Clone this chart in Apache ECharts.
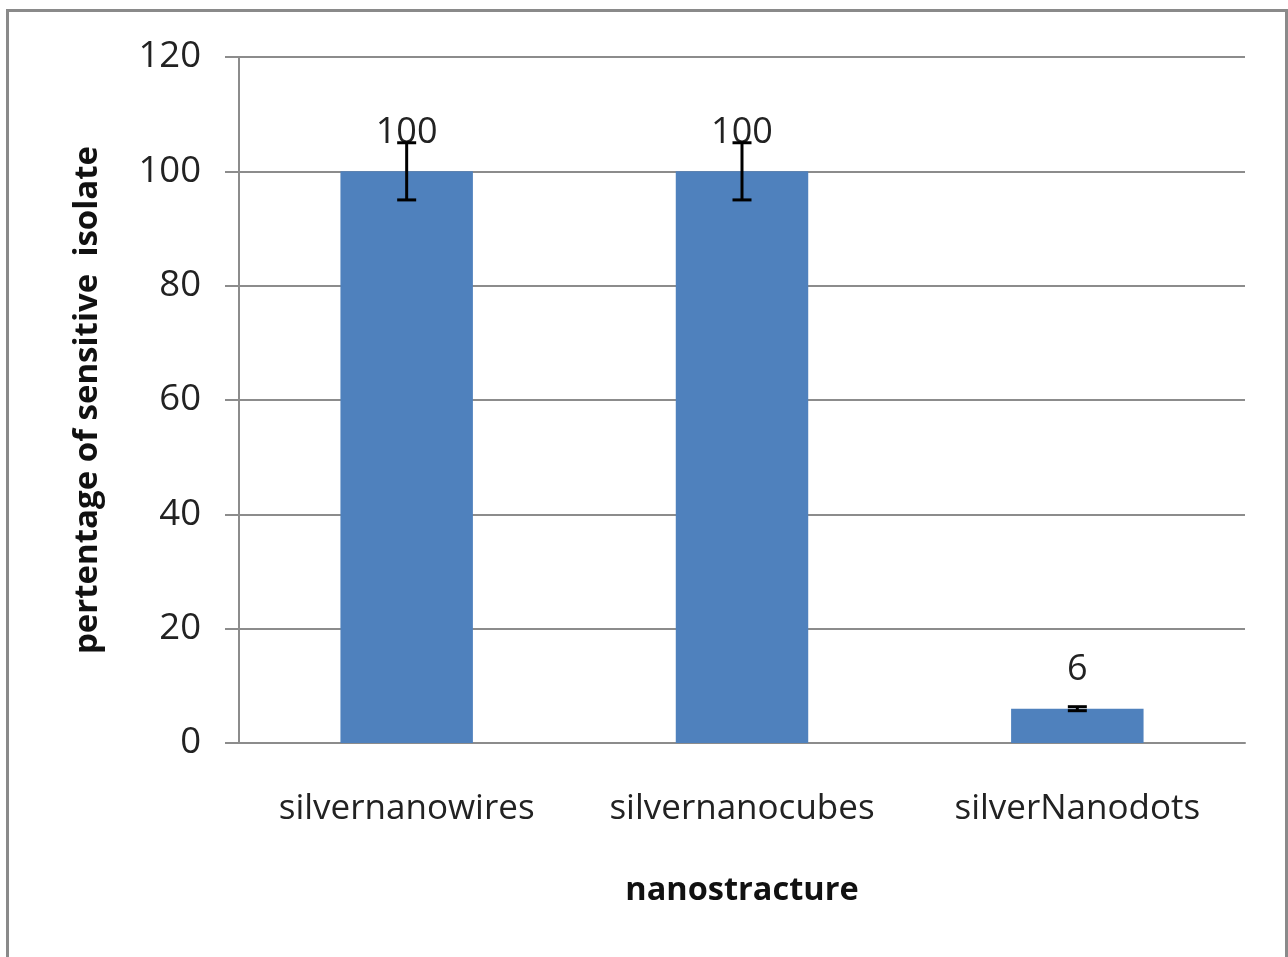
<!DOCTYPE html>
<html>
<head>
<meta charset="utf-8">
<script src="https://cdn.jsdelivr.net/npm/echarts@6/dist/echarts.min.js"></script>
<style>
html,body{margin:0;padding:0;background:#fff;}
#chart{width:1288px;height:957px;}
</style>
</head>
<body>
<div id="chart"></div>
<script>
const categories = ['silvernanowires', 'silvernanocubes', 'silverNanodots'];
const values = [100, 100, 6];
const errors = [5, 5, 0.35];
const yTicks = { min: 0, max: 120, interval: 20 };

const chart = echarts.init(document.getElementById('chart'));
const errData = categories.map((c, i) => [i, values[i] - errors[i], values[i] + errors[i]]);

chart.setOption({
  backgroundColor: '#fff',
  animation: false,
  graphic: [{
    type: 'rect',
    shape: { x: 7.5, y: 10.5, width: 1279, height: 1000 },
    style: { fill: 'none', stroke: '#8a8a8a', lineWidth: 3 },
    silent: true
  }],
  grid: { left: 239, right: 43, top: 57, bottom: 214 },
  xAxis: {
    type: 'category',
    data: categories,
    axisLine: { show: true, lineStyle: { color: '#8c8c8c', width: 2 } },
    axisTick: { show: false },
    axisLabel: { interval: 0, hideOverlap: false, color: '#222', fontFamily: 'Open Sans', fontSize: 35, margin: 49 },
    name: 'nanostracture',
    nameLocation: 'middle',
    nameGap: 131,
    nameTextStyle: { color: '#111', fontFamily: 'Open Sans', fontWeight: 'bold', fontSize: 32.5 }
  },
  yAxis: {
    type: 'value',
    min: yTicks.min, max: yTicks.max, interval: yTicks.interval,
    axisLine: { show: true, lineStyle: { color: '#8c8c8c', width: 2 } },
    axisTick: { show: true, inside: false, length: 14, lineStyle: { color: '#8c8c8c', width: 2 } },
    splitLine: { show: true, lineStyle: { color: '#8c8c8c', width: 2 } },
    axisLabel: { color: '#222', fontFamily: 'Open Sans', fontSize: 36.5, margin: 38 },
    name: 'pertentage of sensitive  isolate',
    nameLocation: 'middle',
    nameGap: 135,
    nameTextStyle: { color: '#111', fontFamily: 'Open Sans', fontWeight: 'bold', fontSize: 33 }
  },
  series: [{
    type: 'bar',
    data: values,
    barWidth: '39.5%',
    itemStyle: { color: '#4F81BD' },
    label: {
      show: true, position: 'top', distance: 21,
      color: '#222', fontFamily: 'Open Sans', fontSize: 36
    },
    z: 2
  }, {
    type: 'custom',
    data: errData,
    z: 10,
    renderItem: function (params, api) {
      const x = api.value(0);
      const lo = api.coord([x, api.value(1)]);
      const hi = api.coord([x, api.value(2)]);
      const hw = 9.5;
      const st = { stroke: '#000', lineWidth: 3 };
      return {
        type: 'group',
        children: [
          { type: 'line', shape: { x1: lo[0], y1: lo[1], x2: hi[0], y2: hi[1] }, style: st },
          { type: 'line', shape: { x1: lo[0] - hw, y1: lo[1], x2: lo[0] + hw, y2: lo[1] }, style: st },
          { type: 'line', shape: { x1: hi[0] - hw, y1: hi[1], x2: hi[0] + hw, y2: hi[1] }, style: st }
        ]
      };
    }
  }]
});
</script>
</body>
</html>
